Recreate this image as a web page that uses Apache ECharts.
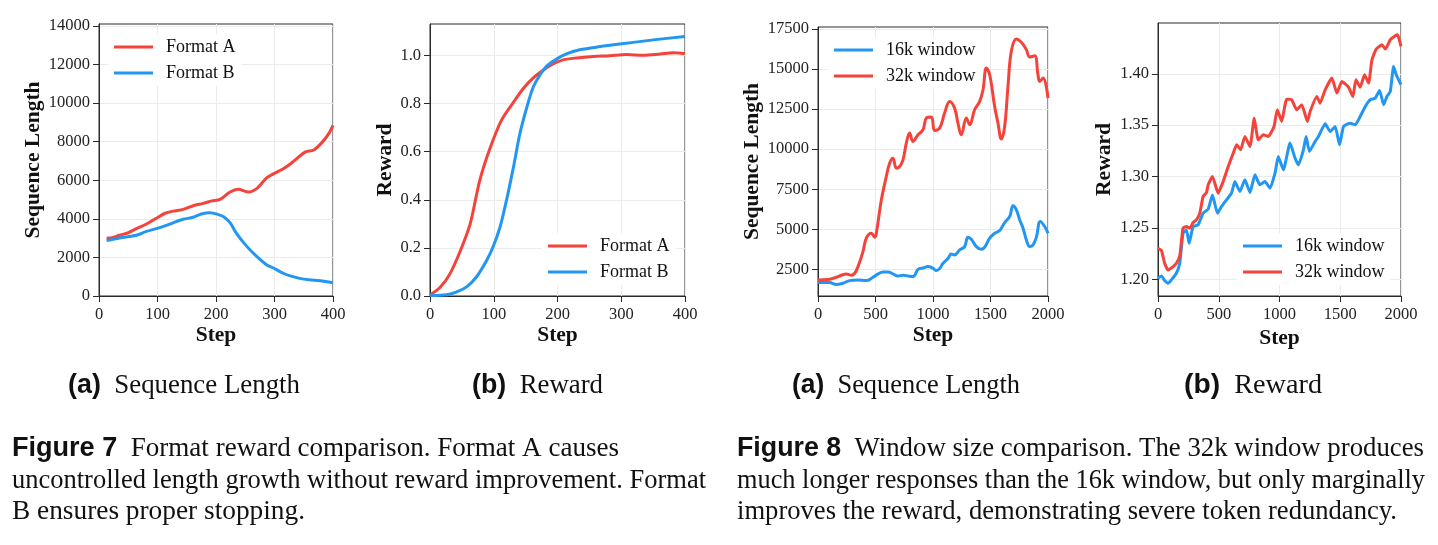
<!DOCTYPE html>
<html>
<head>
<meta charset="utf-8">
<script src="https://cdn.jsdelivr.net/npm/echarts@6/dist/echarts.min.js"></script>
<style>
  html, body { margin: 0; padding: 0; background: #fff; }
  #main { width: 1438px; height: 545px; }
</style>
</head>
<body>
<div id="main"></div>
<script>
// ---- Figure 7 (a): sequence length vs step
const f7LenStepsA = [13, 24, 35, 50, 64, 81, 98, 113, 127, 144, 161, 178, 193, 207, 224, 238, 255, 270, 287, 298, 315, 327, 338, 353, 367, 381, 393, 400];
const f7LenA = [3000, 3040, 3150, 3280, 3490, 3730, 4030, 4290, 4400, 4490, 4680, 4800, 4930, 5010, 5390, 5530, 5390, 5580, 6140, 6330, 6600, 6840, 7120, 7470, 7570, 7950, 8430, 8850];
const f7LenStepsB = [13, 35, 64, 81, 98, 115, 133, 144, 161, 175, 190, 204, 213, 224, 235, 253, 270, 287, 298, 315, 327, 345, 360, 378, 400];
const f7LenB = [2870, 3010, 3150, 3350, 3490, 3660, 3870, 3980, 4080, 4250, 4320, 4220, 4110, 3800, 3250, 2560, 2040, 1610, 1450, 1180, 1040, 900, 840, 790, 690];

// ---- Figure 7 (b): reward vs step
const f7RewStepsA = [0, 16, 31, 47, 63, 78, 94, 112, 131, 146, 162, 178, 193, 209, 230, 256, 282, 308, 335, 361, 382, 400];
const f7RewA = [0.004, 0.036, 0.091, 0.184, 0.30, 0.48, 0.613, 0.73, 0.806, 0.862, 0.907, 0.94, 0.965, 0.982, 0.99, 0.996, 0.999, 1.004, 1.001, 1.006, 1.011, 1.007];
const f7RewStepsB = [0, 26, 42, 58, 73, 89, 99, 110, 120, 131, 141, 152, 162, 173, 183, 199, 214, 235, 267, 308, 350, 400];
const f7RewB = [0.001, 0.005, 0.017, 0.039, 0.08, 0.149, 0.205, 0.288, 0.398, 0.537, 0.675, 0.786, 0.869, 0.921, 0.956, 0.986, 1.007, 1.024, 1.037, 1.051, 1.065, 1.079];

// ---- Figure 8 (a): sequence length vs step
const f8LenSteps16 = [0, 101, 159, 217, 275, 348, 420, 478, 522, 565, 609, 652, 696, 739, 783, 826, 870, 913, 957, 1000, 1029, 1058, 1087, 1130, 1159, 1188, 1232, 1275, 1304, 1333, 1377, 1420, 1449, 1493, 1536, 1580, 1623, 1667, 1696, 1725, 1754, 1783, 1812, 1841, 1870, 1899, 1933, 1971, 2000];
const f8Len16 = [1667, 1667, 1542, 1625, 1792, 1833, 1792, 2000, 2208, 2333, 2333, 2208, 2083, 2125, 2083, 2042, 2500, 2583, 2667, 2562, 2417, 2542, 2875, 3167, 3458, 3396, 3708, 3917, 4500, 4375, 3917, 3750, 3875, 4437, 4750, 4917, 5417, 5792, 6458, 6208, 5583, 5062, 4333, 3917, 4021, 4500, 5479, 5167, 4750];
const f8LenSteps32 = [0, 101, 159, 203, 246, 290, 319, 348, 391, 420, 464, 493, 507, 551, 594, 623, 652, 681, 710, 739, 768, 797, 826, 870, 913, 942, 986, 1014, 1058, 1101, 1145, 1188, 1217, 1246, 1290, 1319, 1362, 1406, 1435, 1464, 1493, 1536, 1565, 1594, 1623, 1652, 1681, 1725, 1768, 1812, 1841, 1884, 1913, 1928, 1957, 2000];
const f8Len32 = [1833, 1875, 2000, 2125, 2208, 2125, 2250, 2667, 3604, 4437, 4750, 4500, 4750, 6833, 8292, 9125, 9437, 8812, 8917, 9333, 10375, 11000, 10479, 10896, 11208, 11937, 12000, 11167, 11312, 12250, 12979, 12562, 11625, 10896, 11937, 11521, 12458, 12979, 13708, 15062, 14646, 12667, 11625, 10625, 11417, 13917, 16104, 16875, 16667, 16208, 15750, 15833, 14646, 14229, 14437, 13187];

// ---- Figure 8 (b): reward vs step
const f8RewSteps16 = [0, 28, 55, 83, 110, 151, 179, 206, 234, 256, 289, 330, 371, 413, 448, 489, 523, 564, 605, 633, 674, 715, 757, 798, 839, 880, 922, 963, 990, 1032, 1087, 1128, 1156, 1197, 1219, 1246, 1293, 1321, 1376, 1417, 1458, 1494, 1527, 1582, 1623, 1664, 1706, 1747, 1788, 1824, 1857, 1884, 1912, 1939, 1961, 2000];
const f8Rew16 = [1.201, 1.2032, 1.1987, 1.1961, 1.1994, 1.2058, 1.2156, 1.2448, 1.248, 1.2351, 1.2513, 1.2529, 1.2643, 1.2682, 1.2821, 1.2643, 1.2708, 1.2773, 1.2838, 1.2951, 1.2854, 1.2968, 1.2844, 1.3016, 1.2919, 1.2951, 1.2886, 1.3032, 1.3195, 1.3065, 1.3325, 1.3179, 1.3114, 1.326, 1.339, 1.3244, 1.3341, 1.339, 1.3513, 1.3438, 1.3487, 1.3308, 1.3487, 1.3519, 1.3503, 1.3584, 1.3682, 1.3747, 1.3763, 1.3838, 1.3698, 1.3779, 1.3828, 1.4071, 1.399, 1.3893];
const f8RewSteps32 = [0, 28, 55, 83, 124, 151, 179, 206, 234, 261, 289, 316, 344, 371, 399, 413, 448, 495, 536, 578, 619, 647, 680, 715, 757, 792, 825, 867, 908, 955, 982, 1018, 1059, 1100, 1142, 1183, 1230, 1252, 1307, 1334, 1376, 1431, 1472, 1513, 1568, 1604, 1629, 1664, 1700, 1733, 1761, 1796, 1843, 1871, 1912, 1953, 1972, 2000];
const f8Rew32 = [1.2302, 1.228, 1.2156, 1.209, 1.2123, 1.2156, 1.2227, 1.2497, 1.2513, 1.2497, 1.2552, 1.2578, 1.2643, 1.2805, 1.2844, 1.2919, 1.30, 1.2838, 1.2951, 1.3097, 1.3227, 1.3308, 1.326, 1.339, 1.3292, 1.3568, 1.3357, 1.3406, 1.339, 1.3487, 1.3649, 1.3536, 1.3753, 1.3747, 1.3649, 1.3698, 1.3536, 1.3633, 1.3779, 1.3714, 1.3844, 1.3958, 1.3812, 1.3925, 1.387, 1.3779, 1.3942, 1.387, 1.399, 1.3909, 1.4136, 1.424, 1.4282, 1.424, 1.4331, 1.437, 1.438, 1.4266];

// ---- tick labels
const ticksStep400 = [0, 100, 200, 300, 400];
const ticksStep2000 = [0, 500, 1000, 1500, 2000];
const ticksLen14k = [0, 2000, 4000, 6000, 8000, 10000, 12000, 14000];
const ticksReward1 = [0.0, 0.2, 0.4, 0.6, 0.8, 1.0];
const ticksLen17k = [2500, 5000, 7500, 10000, 12500, 15000, 17500];
const ticksReward14 = [1.20, 1.25, 1.30, 1.35, 1.40];

const RED = "#f4433a";
const BLUE = "#2196f3";
const SERIF = "Liberation Serif";
const SANS = "Liberation Sans";
const CAP_SIZE = 27;

function zip(xs, ys) {
  return xs.map((x, i) => [x, ys[i]]);
}

const chart = echarts.init(document.getElementById("main"), null, { renderer: "canvas" });

// 子图的位置 (像素)
const grids = [
  { left: 99, top: 24, width: 234, height: 272 },
  { left: 430, top: 24, width: 255, height: 272 },
  { left: 818, top: 27, width: 230, height: 269 },
  { left: 1158, top: 23, width: 243, height: 273 },
].map((g) => ({ ...g, show: true, borderColor: "#2a2a2a", borderWidth: 1, containLabel: false }));

function xAxis(gridIndex, max, ticks) {
  return {
    type: "value",
    gridIndex,
    min: 0,
    max,
    name: "Step",
    nameLocation: "middle",
    nameGap: 28,
    nameTextStyle: { fontFamily: SERIF, fontWeight: "bold", fontSize: 21.5, color: "#111" },
    axisLine: { lineStyle: { color: "#2a2a2a" } },
    axisTick: { customValues: ticks, length: 6, lineStyle: { color: "#2a2a2a" } },
    axisLabel: { customValues: ticks, fontFamily: SERIF, fontSize: 16.5, color: "#222", margin: 10, formatter: (v) => String(v) },
    splitLine: { show: true, lineStyle: { color: "#ebebeb" } },
  };
}

function yAxis(gridIndex, min, max, ticks, name, gap, fmt) {
  return {
    type: "value",
    gridIndex,
    min,
    max,
    name,
    nameLocation: "middle",
    nameGap: gap,
    nameTextStyle: { fontFamily: SERIF, fontWeight: "bold", fontSize: 21.5, color: "#111" },
    axisLine: { show: true, lineStyle: { color: "#2a2a2a" } },
    axisTick: { show: true, customValues: ticks, length: 6, lineStyle: { color: "#2a2a2a" } },
    axisLabel: { customValues: ticks, fontFamily: SERIF, fontSize: 16.5, color: "#222", margin: 9, formatter: fmt },
    splitLine: { show: true, lineStyle: { color: "#ebebeb" } },
  };
}

function line(name, idx, data, color, smooth) {
  return {
    type: "line",
    name,
    xAxisIndex: idx,
    yAxisIndex: idx,
    data,
    symbol: "none",
    smooth,
    lineStyle: { width: 3, color },
    itemStyle: { color },
  };
}

function legend(names, left, top) {
  return {
    data: names.map((n) => ({ name: n, icon: "rect" })),
    orient: "vertical",
    left,
    top,
    itemWidth: 39,
    itemHeight: 3,
    itemGap: 8,
    padding: [4, 6, 4, 6],
    backgroundColor: "#fff",
    textStyle: { fontFamily: SERIF, fontSize: 18, color: "#111", padding: [0, 0, 0, 8] },
  };
}

// 测量文字宽度, 用来把每行拉伸/压缩到原图的宽度
const measureCtx = document.createElement("canvas").getContext("2d");
const capFonts = {
  b: "bold " + CAP_SIZE + "px " + SANS,
  n: CAP_SIZE + "px " + SERIF,
};

function capText(x, y, parts, right) {
  let w = 0;
  parts.forEach(([k, t]) => {
    measureCtx.font = capFonts[k];
    w += measureCtx.measureText(t).width;
  });
  const text = parts.map(([k, t]) => "{" + k + "|" + t + "}").join("");
  return {
    type: "text",
    x,
    y,
    scaleX: right ? (right - x) / w : 1,
    style: {
      text,
      verticalAlign: "middle",
      rich: {
        b: { fontFamily: SANS, fontWeight: "bold", fontSize: CAP_SIZE, fill: "#111" },
        n: { fontFamily: SERIF, fontSize: CAP_SIZE, fill: "#111" },
      },
    },
  };
}

const option = {
  backgroundColor: "#fff",
  animation: false,
  grid: grids,
  xAxis: [
    xAxis(0, 400, ticksStep400),
    xAxis(1, 400, ticksStep400),
    xAxis(2, 2000, ticksStep2000),
    xAxis(3, 2000, ticksStep2000),
  ],
  yAxis: [
    yAxis(0, 0, 14100, ticksLen14k, "Sequence Length", 54, (v) => String(v)),
    yAxis(1, 0, 1.131, ticksReward1, "Reward", 34, (v) => v.toFixed(1)),
    yAxis(2, 831, 17625, ticksLen17k, "Sequence Length", 55, (v) => String(v)),
    yAxis(3, 1.1837, 1.4494, ticksReward14, "Reward", 43, (v) => v.toFixed(2)),
  ],
  legend: [
    legend(["Format A", "Format B"], 108, 34),
    legend(["Format A", "Format B"], 542, 233),
    legend(["16k window", "32k window"], 828, 37),
    legend(["16k window", "32k window"], 1237, 233),
  ],
  series: [
    line("Format A", 0, zip(f7LenStepsA, f7LenA), RED, 0.3),
    line("Format B", 0, zip(f7LenStepsB, f7LenB), BLUE, 0.3),
    line("Format A", 1, zip(f7RewStepsA, f7RewA), RED, 0.3),
    line("Format B", 1, zip(f7RewStepsB, f7RewB), BLUE, 0.3),
    line("16k window", 2, zip(f8LenSteps16, f8Len16), BLUE, 0.4),
    line("32k window", 2, zip(f8LenSteps32, f8Len32), RED, 0.4),
    line("16k window", 3, zip(f8RewSteps16, f8Rew16), BLUE, 0.15),
    line("32k window", 3, zip(f8RewSteps32, f8Rew32), RED, 0.15),
  ],
  graphic: [
    capText(68, 386, [["b", "(a)"], ["n", "  Sequence Length"]], 300),
    capText(472, 386, [["b", "(b)"], ["n", "  Reward"]], 603),
    capText(792, 386, [["b", "(a)"], ["n", "  Sequence Length"]], 1020),
    capText(1184, 386, [["b", "(b)"], ["n", "  Reward"]], 1322),
    capText(12, 449, [["b", "Figure 7"], ["n", "  Format reward comparison. Format A causes"]], 619),
    capText(12, 480.5, [["n", "uncontrolled length growth without reward improvement. Format"]], 706),
    capText(12, 512, [["n", "B ensures proper stopping."]], 305),
    capText(737, 449, [["b", "Figure 8"], ["n", "  Window size comparison. The 32k window produces"]], 1424),
    capText(737, 480.5, [["n", "much longer responses than the 16k window, but only marginally"]], 1425),
    capText(737, 512, [["n", "improves the reward, demonstrating severe token redundancy."]], 1397),
  ],
};

chart.setOption(option);
</script>
</body>
</html>
